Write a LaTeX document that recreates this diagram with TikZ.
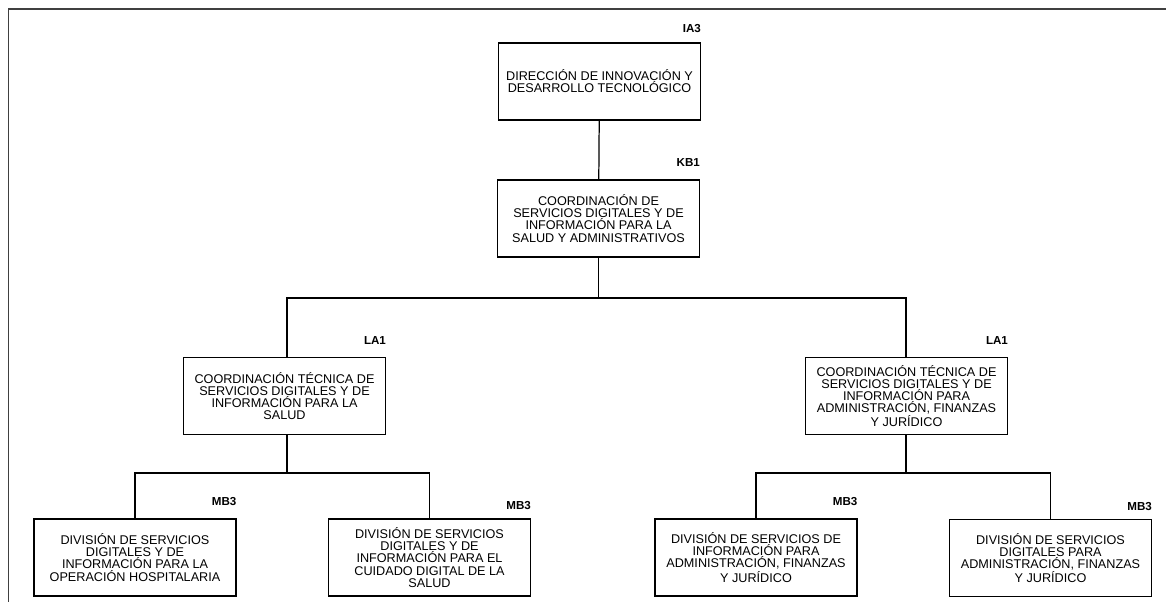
\documentclass[tikz,border=0pt]{standalone}
\usepackage{fontspec}
\setmainfont{Liberation Sans}
\usepackage{tikz}
\usetikzlibrary{positioning,calc}
\tikzset{
  unit/.style={draw, line width=0.9pt, minimum width=4.04cm, minimum height=1.54cm,
    inner sep=0pt, align=center, font=\fontsize{7.2}{6.9}\selectfont},
  tag/.style={anchor=south east, inner sep=0pt, font=\fontsize{6.6}{7}\selectfont\bfseries},
  link/.style={line width=0.7pt},
}
\begin{document}
\begin{tikzpicture}
\useasboundingbox (0,0) rectangle (23.32,-12.04);
\draw[line width=1pt, black!75] (0.17,-12.04) |- (23.32,-0.18);
\node[unit] (ia3) at (11.99,-1.63) {DIRECCIÓN DE INNOVACIÓN Y\\DESARROLLO TECNOLÓGICO};
\node[tag] (ia3t) at ([yshift=0.18cm]ia3.north east) {IA3};
\node[unit] (kb1) at (11.97,-4.37) {COORDINACIÓN DE\\SERVICIOS DIGITALES Y DE\\INFORMACIÓN PARA LA\\SALUD Y ADMINISTRATIVOS};
\node[tag] (kb1t) at ([yshift=0.24cm]kb1.north east) {KB1};
\node[unit] (la1a) at (5.69,-7.92) {COORDINACIÓN TÉCNICA DE\\SERVICIOS DIGITALES Y DE\\INFORMACIÓN PARA LA\\SALUD};
\node[tag] (la1at) at ([yshift=0.24cm]la1a.north east) {LA1};
\node[unit] (la1b) at (18.13,-7.92) {COORDINACIÓN TÉCNICA DE\\SERVICIOS DIGITALES Y DE\\INFORMACIÓN PARA\\ADMINISTRACIÓN, FINANZAS\\Y JURÍDICO};
\node[tag] (la1bt) at ([yshift=0.24cm]la1b.north east) {LA1};
\node[unit] (mb3a) at (2.70,-11.15) {DIVISIÓN DE SERVICIOS\\DIGITALES Y DE\\INFORMACIÓN PARA LA\\OPERACIÓN HOSPITALARIA};
\node[tag] (mb3at) at ([yshift=0.24cm]mb3a.north east) {MB3};
\node[unit] (mb3b) at (8.59,-11.15) {DIVISIÓN DE SERVICIOS\\DIGITALES Y DE\\INFORMACIÓN PARA EL\\CUIDADO DIGITAL DE LA\\SALUD};
\node[tag] (mb3bt) at ([yshift=0.16cm]mb3b.north east) {MB3};
\node[unit] (mb3c) at (15.12,-11.15) {DIVISIÓN DE SERVICIOS DE\\INFORMACIÓN PARA\\ADMINISTRACIÓN, FINANZAS\\Y JURÍDICO};
\node[tag] (mb3ct) at ([yshift=0.24cm]mb3c.north east) {MB3};
\node[unit] (mb3d) at (21.01,-11.16) {DIVISIÓN DE SERVICIOS\\DIGITALES PARA\\ADMINISTRACIÓN, FINANZAS\\Y JURÍDICO};
\node[tag] (mb3dt) at ([yshift=0.16cm]mb3d.north east) {MB3};
\coordinate (bus1) at (11.97,-5.96);
\coordinate (bus2) at (5.74,-9.46);
\coordinate (bus3) at (18.12,-9.46);
\draw[link] (ia3) -- (kb1);
\draw[link] (kb1.south) -- (bus1);
\draw[link] (la1a.north -| bus2) |- (bus1) -| (la1b.north -| bus3);
\draw[link] (la1a.south -| bus2) -- (bus2);
\draw[link] (mb3a.north) |- (bus2) -| (mb3b.north);
\draw[link] (la1b.south -| bus3) -- (bus3);
\draw[link] (mb3c.north) |- (bus3) -| (mb3d.north);
\end{tikzpicture}
\end{document}
